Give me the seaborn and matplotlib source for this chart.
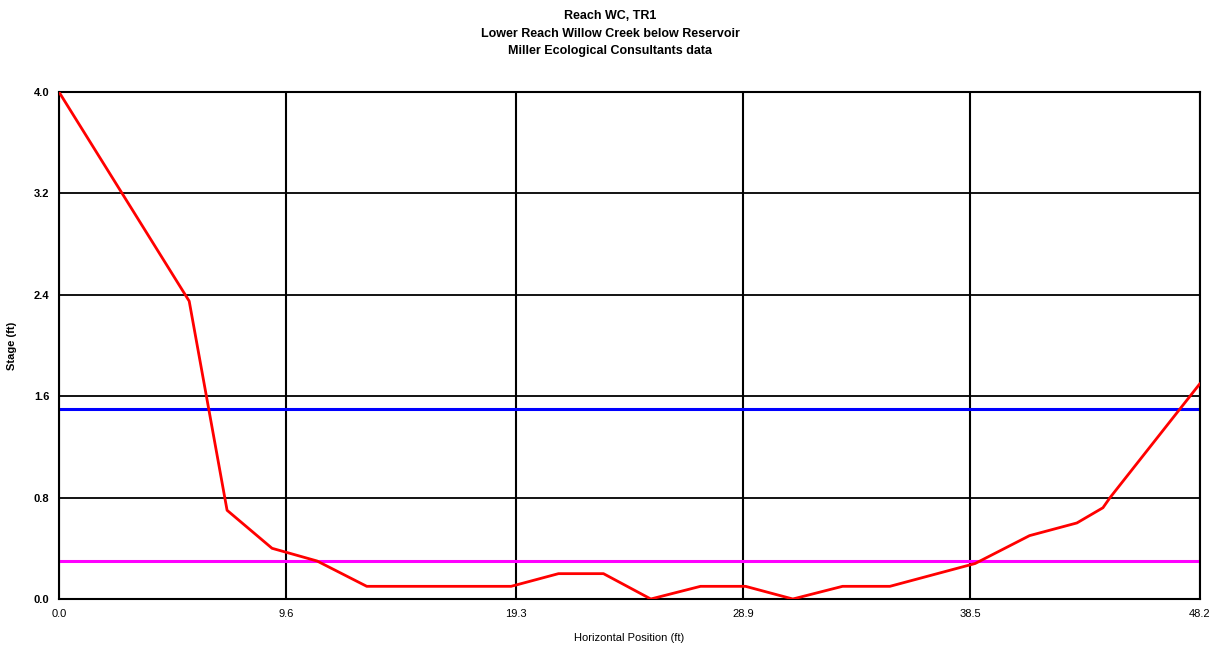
import pandas as pd
import matplotlib
matplotlib.use("Agg")
import matplotlib.pyplot as plt
import seaborn as sns

# ── data ──────────────────────────────────────────────────
position = [0.0, 5.5, 7.1, 9.0, 10.9, 13.0, 19.1, 21.1, 23.0, 25.0,
            27.1, 29.0, 31.0, 33.1, 35.1, 38.7, 41.0, 43.0, 44.1, 44.4, 48.2]
stage = [4.0, 2.35, 0.70, 0.40, 0.30, 0.10, 0.10, 0.20, 0.20, 0.0,
         0.10, 0.10, 0.0, 0.10, 0.10, 0.28, 0.50, 0.60, 0.72, 0.80, 1.70]
water_levels = [1.50, 0.30]
level_colors = ["#0000ff", "#ff00ff"]
x_ticks = [0.0, 9.6, 19.3, 28.9, 38.5, 48.2]
y_ticks = [0.0, 0.8, 1.6, 2.4, 3.2, 4.0]

df = pd.DataFrame({"x": position, "y": stage})

sns.set_style("white")
plt.rcParams["font.family"] = ["Liberation Sans", "DejaVu Sans"]
plt.rcParams["text.color"] = "black"
plt.rcParams["axes.labelcolor"] = "black"
plt.rcParams["xtick.color"] = "black"
plt.rcParams["ytick.color"] = "black"

fig = plt.figure(figsize=(12.21, 6.5), dpi=100)
ax = fig.add_axes([59 / 1221, 51 / 650, 1141 / 1221, 507 / 650])

# gridlines
for xv in x_ticks:
    ax.axvline(xv, color="black", lw=1.5, zorder=1)
for yv in y_ticks:
    ax.axhline(yv, color="black", lw=1.3, zorder=1)

for lvl, c in zip(water_levels, level_colors):
    ax.axhline(lvl, color=c, lw=2.2, zorder=2)

sns.lineplot(data=df, x="x", y="y", color="#ff0000", lw=2.0,
             sort=False, ax=ax, zorder=3)

ax.set_xlim(0, 48.2)
ax.set_ylim(0, 4.0)
ax.set_xticks(x_ticks)
ax.set_yticks(y_ticks)
ax.set_xticklabels([f"{v:.1f}" for v in x_ticks], fontsize=8)
ax.set_yticklabels([f"{v:.1f}" for v in y_ticks], fontsize=8, fontweight="bold")
ax.tick_params(axis="both", direction="out", length=4, width=1, color="black", pad=3)
for s in ax.spines.values():
    s.set_color("black")
    s.set_linewidth(1.5)

ax.set_xlabel("Horizontal Position (ft)", fontsize=8, labelpad=10)
ax.set_ylabel("Stage (ft)", fontsize=8, fontweight="bold", labelpad=12)

fig.text(0.5, 0.985, "Reach WC, TR1\nLower Reach Willow Creek below Reservoir\n"
         "Miller Ecological Consultants data",
         ha="center", va="top", fontsize=9, fontweight="bold", linespacing=1.65)

plt.savefig("out.png", dpi=100)
plt.close()
